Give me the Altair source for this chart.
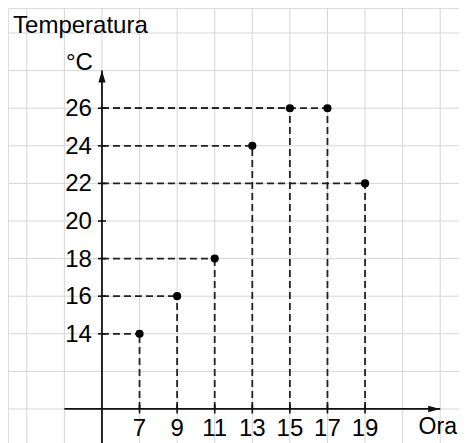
import altair as alt
import pandas as pd

# data
hours = [7, 9, 11, 13, 15, 17, 19]
temps = [14, 16, 18, 24, 26, 26, 22]
x_tick_values = [7, 9, 11, 13, 15, 17, 19]
y_tick_values = [14, 16, 18, 20, 22, 24, 26]
grid_hours = [1, 3, 5, 7, 9, 11, 13, 15, 17, 19, 21, 23]
grid_temps = [10, 12, 14, 16, 18, 20, 22, 24, 26, 28, 30]

origin_h = 5
origin_t = 10
x_axis_start, x_axis_end = 3, 23
y_axis_start, y_axis_end = 8.19, 28

W, H = 451, 435
xs = alt.Scale(domain=[0, 24], nice=False, zero=False)
ys = alt.Scale(domain=[8.19, 31.33], nice=False, zero=False)
FONT = "Liberation Sans"
INK = "#111111"
FS = 24


def X(f):
    return alt.X(f, type="quantitative", scale=xs, axis=None)


def Y(f):
    return alt.Y(f, type="quantitative", scale=ys, axis=None)


pts = pd.DataFrame({"h": hours, "t": temps, "h0": [origin_h] * len(hours), "t0": [origin_t] * len(hours)})

vgrid = alt.Chart(pd.DataFrame({"h": grid_hours})).mark_rule(color="#d6d6d6", strokeWidth=1).encode(x=X("h"))
hgrid = alt.Chart(pd.DataFrame({"t": grid_temps})).mark_rule(color="#d6d6d6", strokeWidth=1).encode(y=Y("t"))

hdash = alt.Chart(pts).mark_rule(color="#222222", strokeWidth=1.8, strokeDash=[7, 4]).encode(
    x=X("h0"), x2="h", y=Y("t"))
vdash = alt.Chart(pts).mark_rule(color="#222222", strokeWidth=1.8, strokeDash=[7, 4]).encode(
    x=X("h"), y=Y("t0"), y2="t")

xaxis_df = pd.DataFrame({"a": [x_axis_start], "b": [x_axis_end], "t": [origin_t]})
yaxis_df = pd.DataFrame({"a": [y_axis_start], "b": [y_axis_end], "h": [origin_h]})
xaxis = alt.Chart(xaxis_df).mark_rule(color=INK, strokeWidth=1.8).encode(x=X("a"), x2="b", y=Y("t"))
yaxis = alt.Chart(yaxis_df).mark_rule(color=INK, strokeWidth=1.8).encode(y=Y("a"), y2="b", x=X("h"))

arrow_up = alt.Chart(yaxis_df).mark_point(
    shape="M0,0L-0.6,2L0.6,2Z", filled=True, size=144, color=INK, opacity=1, strokeWidth=0
).encode(x=X("h"), y=Y("b"))
arrow_right = alt.Chart(xaxis_df).mark_point(
    shape="M0,0L-2,-0.55L-2,0.55Z", filled=True, size=144, color=INK, opacity=1, strokeWidth=0
).encode(x=X("b"), y=Y("t"))

yt_df = pd.DataFrame({"t": y_tick_values, "h": [origin_h] * len(y_tick_values)})
xt_df = pd.DataFrame({"h": x_tick_values, "t": [origin_t] * len(x_tick_values)})
yticks = alt.Chart(yt_df).mark_tick(orient="horizontal", size=8, thickness=1.6, color=INK, opacity=1).encode(
    x=X("h"), y=Y("t"))
xticks = alt.Chart(xt_df).mark_tick(orient="vertical", size=9, thickness=1.6, color=INK, opacity=1).encode(
    x=X("h"), y=Y("t"))

ylabels = alt.Chart(yt_df).mark_text(font=FONT, fontSize=FS, align="right", baseline="middle", dx=-10, dy=1,
                                     color="#000000").encode(x=X("h"), y=Y("t"), text=alt.Text("t:Q"))
xlabels = alt.Chart(xt_df).mark_text(font=FONT, fontSize=FS, align="center", baseline="alphabetic", dy=27,
                                     color="#000000").encode(x=X("h"), y=Y("t"), text=alt.Text("h:Q"))

dots = alt.Chart(pts).mark_circle(size=66, color="#000000", opacity=1).encode(x=X("h"), y=Y("t"))

titles_df = pd.DataFrame({
    "label": ["Temperatura", "°C"],
    "h": [0.27, 4.52],
    "t": [30.0, 28.05],
    "al": ["left", "right"],
})
ora_df = pd.DataFrame({"label": ["Ora"], "h": [21.85], "t": [8.65]})

title_l = alt.Chart(titles_df[titles_df.al == "left"]).mark_text(
    font=FONT, fontSize=FS, align="left", baseline="alphabetic", color="#000000"
).encode(x=X("h"), y=Y("t"), text="label:N")
title_r = alt.Chart(titles_df[titles_df.al == "right"]).mark_text(
    font=FONT, fontSize=FS, align="right", baseline="alphabetic", color="#000000"
).encode(x=X("h"), y=Y("t"), text="label:N")
ora = alt.Chart(ora_df).mark_text(
    font=FONT, fontSize=23, align="left", baseline="alphabetic", color="#000000"
).encode(x=X("h"), y=Y("t"), text="label:N")

chart = alt.layer(
    vgrid, hgrid, hdash, vdash, xaxis, yaxis, arrow_up, arrow_right, yticks, xticks,
    dots, ylabels, xlabels, title_l, title_r, ora
).properties(
    width=W, height=H, padding=0, autosize=alt.AutoSizeParams(type="none")
).configure_view(stroke=None).configure(background="white")

chart.save("out.html", embed_options={"renderer": "svg", "actions": False})
